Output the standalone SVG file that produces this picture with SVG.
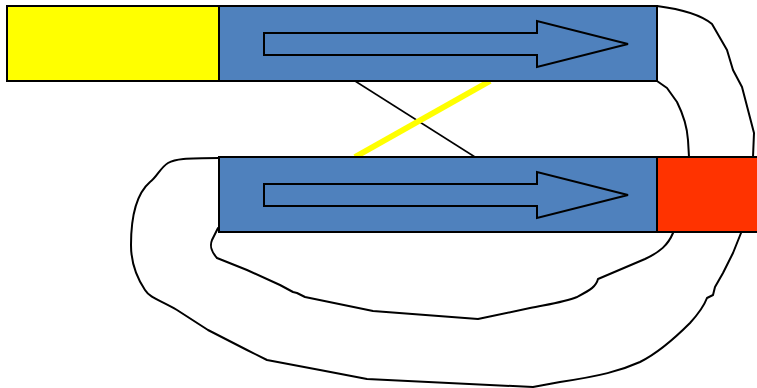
<svg xmlns="http://www.w3.org/2000/svg" width="757" height="388" viewBox="0 0 757 388">
<style>
.box{stroke:#000;stroke-width:2}
.y{fill:#FFFF00}
.b{fill:#4F81BD}
.r{fill:#FF3300}
.arr{fill:none;stroke:#000;stroke-width:2;stroke-linejoin:miter}
.c{fill:none;stroke:#000;stroke-width:2;stroke-linejoin:round;stroke-linecap:round}
</style>
<rect width="757" height="388" fill="#fff"/>
<g id="connectors">
<path class="c" d="M657,6 C680,9 700,14 712,24 L727,50 L733,70 L742,87 L748,110 L754,133 L753,157"/>
<path class="c" d="M657,81 L667,88 L677,102 C683,114 687,125 688,140 L689,157"/>
<path class="c" d="M673,233 C668,245 660,252 645,259 L598,279 C596,287 590,290 577,297 C565,302 550,304 530,308 L478,319 L373,311 L305,297 L297,293 L293,292 L280,285 L247,270 L217,258 C210,250 210,245 212,240 L218,228"/>
<path class="c" d="M741,233 L733,253 L723,273 L715,287 L713,295 L707,298 C704,306 700,312 690,323 C680,333 660,352 640,362 C620,371 600,376 560,382 L533,387 L367,379 L320,370 L267,360 L247,350 L208,330 L177,310 C160,300 150,298 145,290 C135,275 131,260 131,245 C131,220 135,195 150,182 C157,177 160,168 168,163 C175,159 185,158 219,158"/>
<line x1="355" y1="81" x2="475" y2="157" stroke="#000" stroke-width="1.5"/>
<line x1="490" y1="81" x2="355" y2="157" stroke="#FFFF00" stroke-width="6"/>
</g>
<g id="top-yellow"><rect class="box y" x="7" y="6" width="212" height="75"/></g>
<g id="top-blue">
<rect class="box b" x="219" y="6" width="438" height="75"/>
<polygon class="arr" points="264,33 537,33 537,21 628,44 537,67 537,55 264,55"/>
</g>
<g id="bottom-blue">
<rect class="box b" x="219" y="157" width="438" height="75"/>
<polygon class="arr" points="264,184 537,184 537,172 628,195 537,218 537,206 264,206"/>
</g>
<g id="bottom-red"><rect class="box r" x="657" y="157" width="102" height="75"/></g>
</svg>
